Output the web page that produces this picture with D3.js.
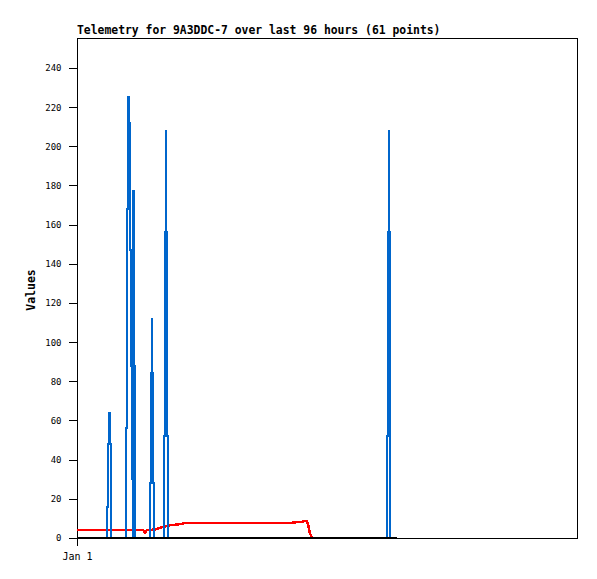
<!DOCTYPE html>
<html>
<head>
<meta charset="utf-8">
<script src="https://cdn.jsdelivr.net/npm/d3@7"></script>
<style>
  body { margin: 0; background: #fff; }
  svg { display: block; }
  text { font-family: "DejaVu Sans Mono", "Liberation Mono", monospace; }
</style>
</head>
<body>
<svg id="chart" width="597" height="579"></svg>
<script>
// ---- data (hours since Jan 1 00:00; each blue value holds from its hour) ----
const titleText = "Telemetry for 9A3DDC-7 over last 96 hours (61 points)";
const yAxisLabel = "Values";
const yTicks = [0, 20, 40, 60, 80, 100, 120, 140, 160, 180, 200, 220, 240];
const xTickLabels = ["Jan 1"];

const blueHours = [0,
  5.760, 5.952, 6.144, 6.259, 6.451, 6.528,
  9.350, 9.562, 9.734, 9.926, 10.080, 10.253, 10.445, 10.598, 10.733,
  10.810, 10.963, 11.002, 11.059, 11.155,
  14.016, 14.170, 14.304, 14.438, 14.592, 14.707,
  16.762, 16.896, 17.030, 17.165, 17.357, 17.510,
  59.520, 59.674, 59.827, 59.962, 60.096, 60.173,
  61.44];
const blueValues = [0,
  16, 48, 64, 48, 16, 0,
  56, 168, 225, 212, 188, 147, 88, 30, 0,
  177, 147, 88, 30, 0,
  28, 84, 112, 84, 28, 0,
  52, 156, 208, 156, 52, 0,
  52, 156, 208, 156, 52, 0,
  0];

const redHours = [0, 12.67, 13.06, 13.44, 15.17, 15.74, 16.70, 18.05, 19.97, 20.93, 41.2, 43.3, 44.1, 44.4, 44.7, 45.1];
const redValues = [4, 4, 2.7, 4, 4.4, 5.1, 5.8, 6.6, 7.1, 7.8, 7.8, 8.3, 8.8, 6.6, 2.5, 0];

const blackHours = [0, 61.44];
const blackValues = [0, 0];

// ---- layout ----
const svg = d3.select("#chart");
const mLeft = 77, mRight = 577, mTop = 38, mBottom = 538;
const t0 = new Date(2024, 0, 1, 0, 0, 0);
const toDate = h => new Date(t0.getTime() + h * 3600 * 1000);

const x = d3.scaleTime()
  .domain([t0, toDate(96)])
  .range([mLeft, mRight]);
const y = d3.scaleLinear()
  .domain([0, 255.3])
  .range([mBottom, mTop]);

// frame
svg.append("rect")
  .attr("x", mLeft + 0.5).attr("y", mTop + 0.5)
  .attr("width", mRight - mLeft).attr("height", mBottom - mTop)
  .attr("fill", "none").attr("stroke", "#000").attr("stroke-width", 1)
  .attr("shape-rendering", "crispEdges");

// y axis
const yAxis = d3.axisLeft(y).tickValues(yTicks).tickSize(9).tickPadding(7);
const gy = svg.append("g")
  .attr("transform", `translate(${mLeft + 0.5},0)`)
  .call(yAxis);
gy.select(".domain").remove();
gy.selectAll("line").attr("stroke", "#000").attr("shape-rendering", "crispEdges");
gy.selectAll("text").attr("font-size", "9px").attr("fill", "#000")
  .attr("font-family", "DejaVu Sans Mono, monospace");

// x axis
const xAxis = d3.axisBottom(x).tickValues([t0]).tickSize(7).tickPadding(7)
  .tickFormat((d, i) => xTickLabels[i]);
const gx = svg.append("g")
  .attr("transform", `translate(0,${mBottom + 0.5})`)
  .call(xAxis);
gx.select(".domain").remove();
gx.selectAll("line").attr("stroke", "#000").attr("shape-rendering", "crispEdges");
gx.selectAll("text").attr("font-size", "10px").attr("fill", "#000")
  .attr("font-family", "DejaVu Sans Mono, monospace");

// title
svg.append("text")
  .attr("x", mLeft).attr("y", 34)
  .attr("font-size", "11.4px").attr("font-weight", "bold")
  .attr("fill", "#000")
  .text(titleText);

// y label
svg.append("text")
  .attr("transform", `translate(35,${(mTop + mBottom) / 2 + 2}) rotate(-90)`)
  .attr("text-anchor", "middle")
  .attr("font-size", "11.5px").attr("font-weight", "bold")
  .attr("fill", "#000")
  .text(yAxisLabel);

const line = d3.line()
  .x(d => x(toDate(d[0])))
  .y(d => y(d[1]));
const stepLine = d3.line()
  .curve(d3.curveStepAfter)
  .x(d => x(toDate(d[0])))
  .y(d => y(d[1]));

const redData = redHours.map((h, i) => [h, redValues[i]]);
const blueData = blueHours.map((h, i) => [h, blueValues[i]]);
const blackData = blackHours.map((h, i) => [h, blackValues[i]]);

svg.append("path").datum(redData)
  .attr("d", line).attr("fill", "none")
  .attr("stroke", "#ff0000").attr("stroke-width", 2.4)
  .attr("stroke-linejoin", "miter")
  .attr("shape-rendering", "crispEdges");

svg.append("path").datum(blueData)
  .attr("d", stepLine).attr("fill", "none")
  .attr("stroke", "#0066cc").attr("stroke-width", 2)
  .attr("stroke-linejoin", "miter")
  .attr("shape-rendering", "crispEdges");

svg.append("path").datum(blackData)
  .attr("d", line).attr("fill", "none")
  .attr("stroke", "#000").attr("stroke-width", 2.2)
  .attr("shape-rendering", "crispEdges");
</script>
</body>
</html>
